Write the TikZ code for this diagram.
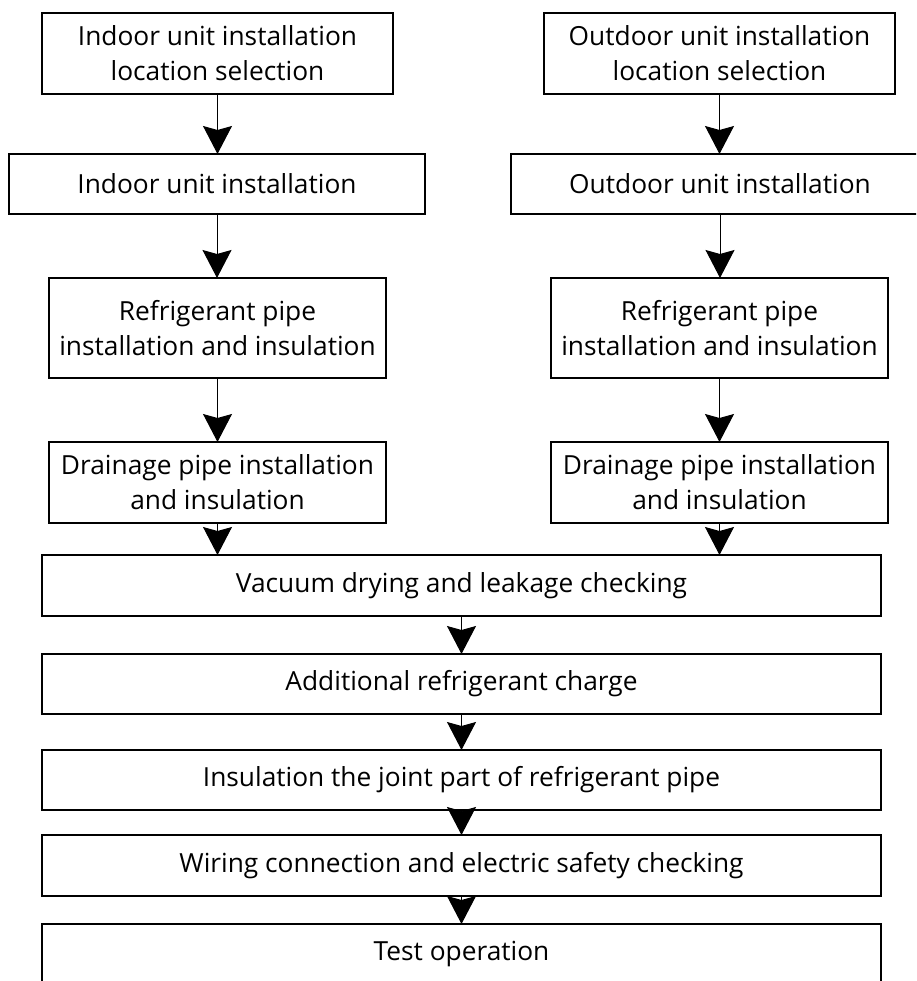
\documentclass[tikz,border=0pt]{standalone}
\usepackage{fontspec}
\setmainfont{Open Sans}
\usetikzlibrary{arrows.meta}
\tikzset{
  box/.style={draw=black, line width=1.2pt, inner sep=0pt, outer sep=0pt, align=center,
    font=\fontsize{26.3}{35}\selectfont, text=black},
  arr/.style={draw=black, line width=1pt, -{Stealth[length=28pt, width=29pt, inset=4pt]}}
}
\begin{document}
\begin{tikzpicture}[x=1pt,y=-1pt]
\useasboundingbox (0,0) rectangle (916,981);
\clip (0,0) rectangle (916,981);
\node[box, minimum width=351pt, minimum height=81pt] (b1L) at (217.5,53.5) {Indoor unit installation\\location selection};
\node[box, minimum width=351pt, minimum height=81pt] (b1R) at (719.5,53.5) {Outdoor unit installation\\location selection};
\node[box, minimum width=416pt, minimum height=60pt] (b2L) at (217,184) {Indoor unit installation};
\node[box, minimum width=418pt, minimum height=60pt] (b2R) at (720,184) {Outdoor unit installation};
\node[box, minimum width=337pt, minimum height=100pt] (b3L) at (217.5,328) {Refrigerant pipe\\installation and insulation};
\node[box, minimum width=337pt, minimum height=100pt] (b3R) at (719.5,328) {Refrigerant pipe\\installation and insulation};
\node[box, minimum width=337pt, minimum height=81pt] (b4L) at (217.5,482.5) {Drainage pipe installation\\and insulation};
\node[box, minimum width=337pt, minimum height=81pt] (b4R) at (719.5,482.5) {Drainage pipe installation\\and insulation};
\node[box, minimum width=839pt, minimum height=61pt] (vac) at (461.5,585.5) {Vacuum drying and leakage checking};
\node[box, minimum width=839pt, minimum height=60pt] (add) at (461.5,684) {Additional refrigerant charge};
\node[box, minimum width=839pt, minimum height=60pt] (ins) at (461.5,780) {Insulation the joint part of refrigerant pipe};
\node[box, minimum width=839pt, minimum height=61pt] (wir) at (461.5,865.5) {Wiring connection and electric safety checking};
\node[box, minimum width=839pt, minimum height=60pt] (tst) at (461.5,954) {Test operation};
\draw[arr] (b1L.south) -- (b1L.south |- b2L.north);
\draw[arr] (b2L.south) -- (b2L.south |- b3L.north);
\draw[arr] (b3L.south) -- (b3L.south |- b4L.north);
\draw[arr] (b4L.south) -- (b4L.south |- vac.north);
\draw[arr] (b1R.south) -- (b1R.south |- b2R.north);
\draw[arr] (b2R.south) -- (b2R.south |- b3R.north);
\draw[arr] (b3R.south) -- (b3R.south |- b4R.north);
\draw[arr] (b4R.south) -- (b4R.south |- vac.north);
\draw[arr] (vac.south) -- (add.north);
\draw[arr] (add.south) -- (ins.north);
\draw[arr] (ins.south) -- (wir.north);
\draw[arr] (wir.south) -- (tst.north);
\end{tikzpicture}
\end{document}
